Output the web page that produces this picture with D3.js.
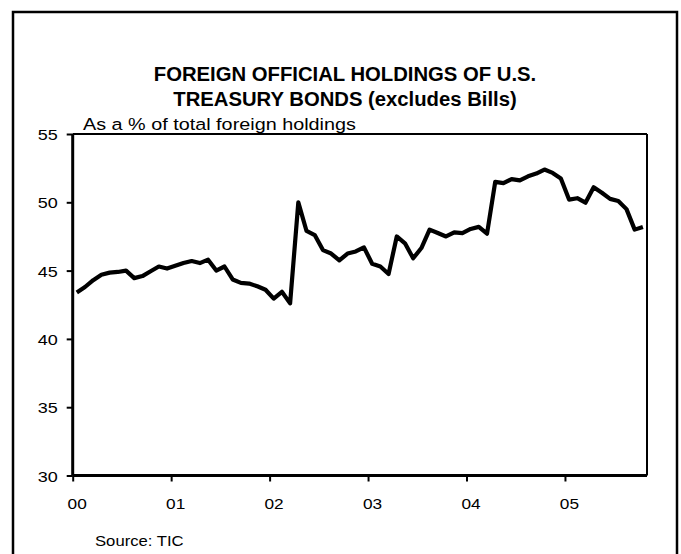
<!DOCTYPE html>
<html><head><meta charset="utf-8">
<script src="https://cdn.jsdelivr.net/npm/d3@7/dist/d3.min.js"></script>
<style>
body{margin:0;background:#fff}
svg{display:block}
text{font-family:"Liberation Sans",Arial,sans-serif;fill:#000}
</style>
</head><body>
<svg id="chart" width="681" height="554"></svg>
<script>
// ---- data ----
const yearLabels = ["00","01","02","03","04","05"];
const yTickValues = [30,35,40,45,50,55];
const titleLines = ["FOREIGN OFFICIAL HOLDINGS OF U.S.","TREASURY BONDS (excludes Bills)"];
const subtitle = "As a % of total foreign holdings";
const source = "Source: TIC";
// monthly share (%), Jan 2000 .. Oct 2005
const share = [
  43.4,43.8,44.3,44.7,44.85,44.9,45.0,44.45,44.6,44.95,45.3,45.15,
  45.35,45.55,45.7,45.55,45.8,45.0,45.3,44.35,44.1,44.05,43.85,43.6,
  42.95,43.45,42.6,50.0,47.9,47.6,46.5,46.25,45.75,46.25,46.4,46.7,
  45.5,45.3,44.75,47.5,47.0,45.9,46.65,48.0,47.75,47.5,47.8,47.75,
  48.05,48.2,47.7,51.5,51.4,51.7,51.6,51.9,52.1,52.4,52.15,51.75,
  50.2,50.3,49.97,51.1,50.7,50.25,50.1,49.5,48.0,48.2
];
const months = yearLabels.flatMap(y => ["01","02","03","04","05","06","07","08","09","10","11","12"].map(m => y + "-" + m)).slice(0, share.length);

// ---- layout ----
const L = 72.7, R = 647, T = 134, B = 475.5;
const svg = d3.select("#chart");

// outer frame
svg.append("rect").attr("x",13).attr("y",12).attr("width",664).attr("height",560)
  .attr("fill","none").attr("stroke","#000").attr("stroke-width",2.5);

// scales
const x = d3.scaleLinear().domain([0, months.length]).range([L, R]);
const y = d3.scaleLinear().domain([30, 55]).range([B, T]);

// title
svg.append("g").selectAll("text").data(titleLines).join("text")
  .attr("transform",(d,i)=>`translate(345,${81 + i*25}) scale(1.04,1)`)
  .attr("text-anchor","middle").attr("font-weight","bold").attr("font-size",19.5)
  .text(d => d);

// plot frame (top/right thinner)
svg.append("line").attr("x1",L).attr("x2",R).attr("y1",T).attr("y2",T).attr("stroke","#000").attr("stroke-width",2);
svg.append("line").attr("x1",R).attr("x2",R).attr("y1",T).attr("y2",B).attr("stroke","#000").attr("stroke-width",2);

// y axis
const yAxis = svg.append("g").attr("transform",`translate(${L},0)`)
  .call(d3.axisLeft(y).tickValues(yTickValues).tickSize(6).tickPadding(0));
yAxis.select(".domain").attr("stroke","#000").attr("stroke-width",3).attr("d",`M0,${T}V${B}`);
yAxis.selectAll(".tick line").attr("stroke","#000").attr("stroke-width",2);
yAxis.selectAll(".tick text").attr("font-size",15).attr("font-family","Liberation Sans, Arial, sans-serif")
  .attr("x",null).attr("dy",null).attr("transform","translate(-15,5.5) scale(1.2,1)");

// x axis
const xAxis = svg.append("g").attr("transform",`translate(0,${B})`)
  .call(d3.axisBottom(x).tickValues(yearLabels.map((d,i)=>i*12)).tickFormat((d,i)=>yearLabels[i]).tickSize(6).tickPadding(0));
xAxis.select(".domain").attr("stroke","#000").attr("stroke-width",3).attr("d",`M${L},0H${R}`);
xAxis.selectAll(".tick line").attr("stroke","#000").attr("stroke-width",2);
xAxis.selectAll(".tick text").attr("font-size",15).attr("font-family","Liberation Sans, Arial, sans-serif")
  .attr("y",null).attr("dy",null).attr("transform","translate(4,33) scale(1.15,1)");

// subtitle
svg.append("text").attr("transform","translate(83,130) scale(1.2,1)").attr("font-size",16.5).text(subtitle);

// line
const line = d3.line().x((d,i)=>x(i+0.5)).y(d=>y(d)).curve(d3.curveLinear);
svg.append("path").datum(share).attr("d",line).attr("fill","none")
  .attr("stroke","#000").attr("stroke-width",4.2).attr("stroke-linejoin","round").attr("stroke-linecap","butt");

// source
svg.append("text").attr("transform","translate(95,546) scale(1.15,1)").attr("font-size",14.5).text(source);
</script>
</body></html>
